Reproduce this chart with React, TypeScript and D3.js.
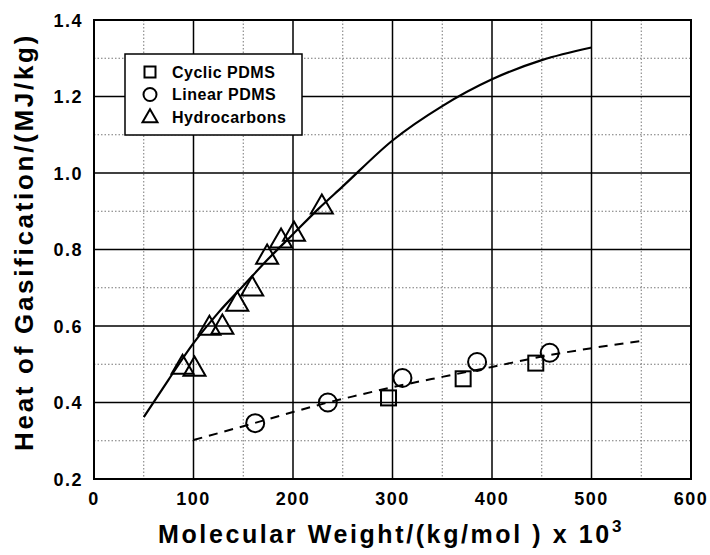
import React from 'react';
import { scaleLinear, line, curveMonotoneX, range } from 'd3';

const width = 710;
const height = 555;
const margin = { top: 20, left: 94, right: 19, bottom: 76 };

// data
const cyclicX = [296, 371, 444];
const cyclicY = [0.412, 0.462, 0.503];
const linearX = [162, 235, 310, 385, 458];
const linearY = [0.346, 0.4, 0.464, 0.506, 0.53];
const hydroX = [89, 101, 116, 129, 144, 159, 174, 188, 201, 229];
const hydroY = [0.495, 0.49, 0.597, 0.6, 0.66, 0.7, 0.783, 0.825, 0.843, 0.914];
const fitHydroX = [50, 75, 100, 125, 150, 175, 200, 225, 250, 300, 350, 400, 450, 500];
const fitHydroY = [0.362, 0.46, 0.555, 0.635, 0.705, 0.775, 0.84, 0.905, 0.965, 1.085, 1.175, 1.245, 1.295, 1.328];
const fitPdmsX = [100, 150, 200, 235, 267, 300, 350, 400, 450, 500, 550];
const fitPdmsY = [0.302, 0.338, 0.375, 0.4, 0.42, 0.44, 0.467, 0.493, 0.52, 0.542, 0.561];
const xTicks = [0, 100, 200, 300, 400, 500, 600];
const yTicks = [0.2, 0.4, 0.6, 0.8, 1.0, 1.2, 1.4];
const legendLabels = ['Cyclic PDMS', 'Linear PDMS', 'Hydrocarbons'];

const font = "'Liberation Sans', Arial, sans-serif";

function Marker({ kind, x, y, s }: { kind: string; x: number; y: number; s: number }) {
  if (kind === 'square') {
    return <rect x={x - s / 2} y={y - s / 2} width={s} height={s} fill="none" stroke="black" strokeWidth={2} />;
  }
  if (kind === 'circle') {
    return <circle cx={x} cy={y} r={s / 2} fill="none" stroke="black" strokeWidth={2} />;
  }
  const h = s * 0.87;
  return (
    <path
      d={`M${x},${y - h * 0.6}L${x + s / 2},${y + h * 0.4}L${x - s / 2},${y + h * 0.4}Z`}
      fill="none"
      stroke="black"
      strokeWidth={2}
    />
  );
}

export default function App() {
  const x = scaleLinear().domain([0, 600]).range([margin.left, width - margin.right]);
  const y = scaleLinear().domain([0.2, 1.4]).range([height - margin.bottom, margin.top]);

  const lineGen = line<number[]>()
    .x(d => x(d[0]))
    .y(d => y(d[1]))
    .curve(curveMonotoneX);

  const hydroFit = fitHydroX.map((v, i) => [v, fitHydroY[i]]);
  const pdmsFit = fitPdmsX.map((v, i) => [v, fitPdmsY[i]]);

  const minorX = range(50, 600, 100);
  const minorY = range(0.3, 1.4, 0.2);

  const left = x(0), right = x(600), top = y(1.4), bottom = y(0.2);

  return (
    <svg width={width} height={height} style={{ position: 'absolute', left: 0, top: 0, background: 'white' }}>
      {/* minor dotted grid */}
      {minorX.map(v => (
        <line key={'mx' + v} x1={x(v)} x2={x(v)} y1={top} y2={bottom} stroke="#777" strokeWidth={1} strokeDasharray="1.5,2" />
      ))}
      {minorY.map(v => (
        <line key={'my' + v} x1={left} x2={right} y1={y(v)} y2={y(v)} stroke="#777" strokeWidth={1} strokeDasharray="1.5,2" />
      ))}
      {/* major grid */}
      {xTicks.map(v => (
        <line key={'gx' + v} x1={x(v)} x2={x(v)} y1={top} y2={bottom} stroke="black" strokeWidth={1.5} />
      ))}
      {yTicks.map(v => (
        <line key={'gy' + v} x1={left} x2={right} y1={y(v)} y2={y(v)} stroke="black" strokeWidth={1.5} />
      ))}
      <rect x={left} y={top} width={right - left} height={bottom - top} fill="none" stroke="black" strokeWidth={2} />

      {/* fit lines */}
      <path d={lineGen(hydroFit) || ''} fill="none" stroke="black" strokeWidth={2.2} />
      <path d={lineGen(pdmsFit) || ''} fill="none" stroke="black" strokeWidth={2} strokeDasharray="9,7" />

      {/* points */}
      {hydroX.map((v, i) => <Marker key={'h' + i} kind="triangle" x={x(v)} y={y(hydroY[i])} s={22} />)}
      {linearX.map((v, i) => <Marker key={'l' + i} kind="circle" x={x(v)} y={y(linearY[i])} s={18} />)}
      {cyclicX.map((v, i) => <Marker key={'c' + i} kind="square" x={x(v)} y={y(cyclicY[i])} s={15} />)}

      {/* legend */}
      <rect x={125} y={54} width={177} height={81} fill="white" stroke="black" strokeWidth={1.5} />
      {legendLabels.map((t, i) => (
        <g key={t}>
          <Marker kind={['square', 'circle', 'triangle'][i]} x={150} y={72 + i * 22.5} s={[11, 13, 15][i]} />
          <text x={172} y={72 + i * 22.5} dy="0.36em" fontFamily={font} fontWeight="bold" fontSize={16} letterSpacing={0.5}>
            {t}
          </text>
        </g>
      ))}

      {/* tick labels */}
      {xTicks.map(v => (
        <text key={'tx' + v} x={x(v)} y={505} textAnchor="middle" fontFamily={font} fontWeight="bold" fontSize={18} letterSpacing={1.5}>
          {v}
        </text>
      ))}
      {yTicks.map(v => (
        <text key={'ty' + v} x={83} y={y(v)} dy="0.38em" textAnchor="end" fontFamily={font} fontWeight="bold" fontSize={18} letterSpacing={1.5}>
          {v.toFixed(1)}
        </text>
      ))}

      {/* axis titles */}
      <text x={391} y={543} textAnchor="middle" fontFamily={font} fontWeight="bold" fontSize={25} letterSpacing={2.6}>
        Molecular Weight/(kg/mol ) x 10<tspan dy={-11} fontSize={17}>3</tspan>
      </text>
      <text
        transform={`translate(33,242) rotate(-90)`}
        textAnchor="middle"
        fontFamily={font}
        fontWeight="bold"
        fontSize={26}
        letterSpacing={2.7}
      >
        Heat of Gasification/(MJ/kg)
      </text>
    </svg>
  );
}
